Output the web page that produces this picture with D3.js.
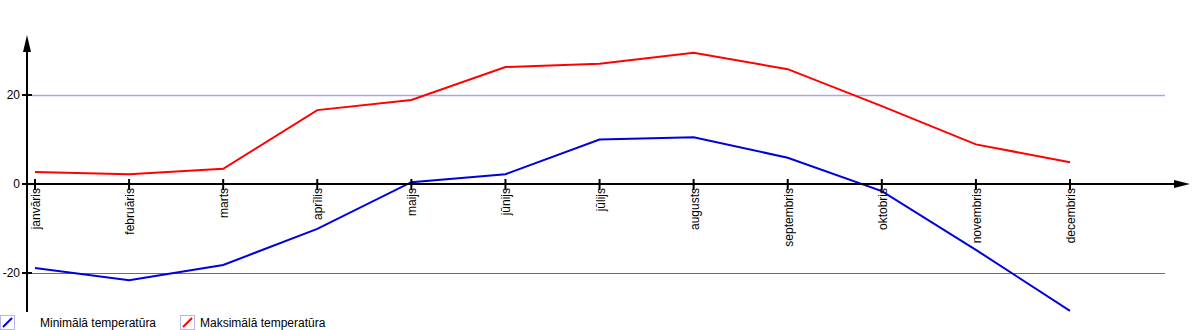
<!DOCTYPE html>
<html>
<head>
<meta charset="utf-8">
<script src="https://cdn.jsdelivr.net/npm/d3@7"></script>
<style>
  html, body { margin: 0; padding: 0; background: #fff; }
  svg { display: block; font-family: "Liberation Sans", Arial, sans-serif; }
</style>
</head>
<body>
<svg id="chart" width="1200" height="330"></svg>
<script>
// Monthly temperatures (°C)
const months = ["janvāris", "februāris", "marts", "aprīlis", "maijs", "jūnijs",
                "jūlijs", "augusts", "septembris", "oktobris", "novembris", "decembris"];
const minTemp = [-18.9, -21.6, -18.2, -10.1, 0.4, 2.2, 10.0, 10.5, 5.9, -1.6, -14.8, -28.5];
const maxTemp = [2.7, 2.2, 3.4, 16.6, 18.9, 26.3, 27.0, 29.5, 25.8, 17.5, 8.9, 4.9];
const yTicks = [-20, 0, 20];
const seriesNames = ["Minimālā temperatūra", "Maksimālā temperatūra"];
const seriesColors = ["#0000dd", "#ff0000"];

const svg = d3.select("#chart");
const axisX = 27;
const fontSize = 12;

const x = d3.scalePoint().domain(months).range([35, 1070]);
const y = d3.scaleLinear().domain([-20, 20]).range([273, 95]);

// horizontal grid lines
const gridColor = d => d > 0 ? "#a8a8e0" : "#6a6a80";
svg.append("g").selectAll("line")
  .data(yTicks.filter(d => d !== 0))
  .join("line")
  .attr("x1", axisX + 5).attr("x2", 1165)
  .attr("y1", d => y(d) + 0.5).attr("y2", d => y(d) + 0.5)
  .attr("stroke", gridColor).attr("stroke-width", d => d > 0 ? 1.5 : 1);

// series lines
const line = d3.line().x((d, i) => x(months[i])).y(d => y(d));
[minTemp, maxTemp].forEach((vals, k) => {
  svg.append("path")
    .datum(vals)
    .attr("d", line)
    .attr("fill", "none")
    .attr("stroke", seriesColors[k])
    .attr("stroke-width", 2)
    .attr("stroke-linejoin", "miter");
});

// x axis (at zero) with arrow
const y0 = y(0);
svg.append("line")
  .attr("x1", axisX).attr("x2", 1178)
  .attr("y1", y0).attr("y2", y0)
  .attr("stroke", "#000").attr("stroke-width", 2);
svg.append("path")
  .attr("d", `M1190,${y0} L1174,${y0 - 4} L1174,${y0 + 4} Z`)
  .attr("fill", "#000");

// y axis with arrow
svg.append("line")
  .attr("x1", axisX).attr("x2", axisX)
  .attr("y1", 48).attr("y2", 312)
  .attr("stroke", "#000").attr("stroke-width", 2);
svg.append("path")
  .attr("d", `M${axisX},35 L${axisX - 4},52 L${axisX + 4},52 Z`)
  .attr("fill", "#000");

// y ticks and labels
const yt = svg.append("g").selectAll("g").data(yTicks).join("g")
  .attr("transform", d => `translate(0,${y(d)})`);
yt.append("line")
  .attr("x1", axisX - 5).attr("x2", axisX + 5)
  .attr("stroke", "#000").attr("stroke-width", 2);
yt.append("text")
  .attr("x", axisX - 7).attr("dy", "0.35em")
  .attr("text-anchor", "end")
  .attr("font-size", fontSize)
  .attr("fill", "#000")
  .text(d => d);

// month ticks and rotated labels
const mt = svg.append("g").selectAll("g").data(months).join("g")
  .attr("transform", d => `translate(${x(d)},${y0})`);
mt.append("line")
  .attr("y1", -5).attr("y2", 6)
  .attr("stroke", "#000").attr("stroke-width", 2);
mt.append("text")
  .attr("transform", "rotate(-90)")
  .attr("x", -4).attr("y", 5)
  .attr("text-anchor", "end")
  .attr("font-size", fontSize)
  .attr("fill", "#000")
  .text(d => d);

// legend
const legendPos = [{sx: 0, tx: 40}, {sx: 180, tx: 200}];
seriesNames.forEach((name, k) => {
  const g = svg.append("g").attr("transform", `translate(${legendPos[k].sx},315)`);
  g.append("rect")
    .attr("x", 0.5).attr("y", 0.5).attr("width", 14).attr("height", 14)
    .attr("fill", "#fff").attr("stroke", "#b8b8e8").attr("stroke-width", 1);
  g.append("line")
    .attr("x1", 3).attr("y1", 12).attr("x2", 12).attr("y2", 3)
    .attr("stroke", seriesColors[k]).attr("stroke-width", 2);
  svg.append("text")
    .attr("x", legendPos[k].tx).attr("y", 327)
    .attr("font-size", fontSize)
    .attr("fill", "#000")
    .text(name);
});
</script>
</body>
</html>
